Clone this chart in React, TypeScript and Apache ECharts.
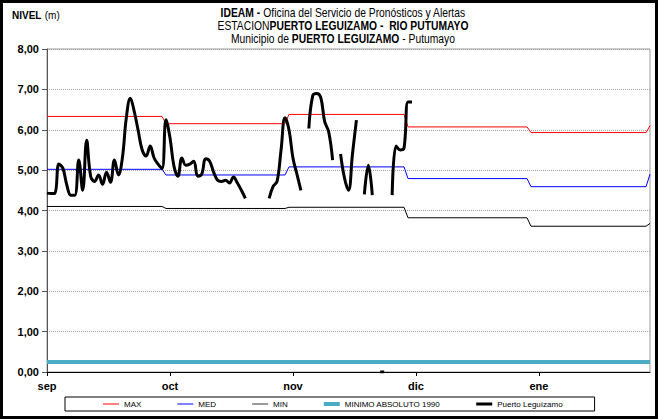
import React, { useEffect, useRef } from "react";
import * as echarts from "echarts";

// ---- data ----
const monthLabels = ["sep", "oct", "nov", "dic", "ene"];
const monthStartDay = [0, 30, 61, 91, 122];
const monthEndDay = [29, 60, 90, 121, 151];
const lastDay = 152;

const maxMonthly = [6.33, 6.15, 6.38, 6.07, 5.93];
const maxFinal = 6.1;
const medMonthly = [5.02, 4.88, 5.08, 4.79, 4.59];
const medFinal = 4.9;
const minMonthly = [4.1, 4.05, 4.08, 3.82, 3.61];
const minFinal = 3.68;
const minimoAbsoluto = 0.25;

// daily observed levels, from 1 sep (null = no data)
const observedLevels: (number | null)[] = [
  4.43, 4.42, 4.43, 5.15, 5.05, 4.63, 4.38, 4.38, 5.25, 4.5,
  5.74, 4.85, 4.72, 4.88, 4.65, 4.95, 4.7, 5.25, 4.88, 5.3,
  6.3, 6.78, 6.45, 5.97, 5.5, 5.35, 5.6, 5.3, 5.15, 5.04,
  6.25, 5.8, 5.1, 4.85, 5.3, 5.12, 5.15, 5.22, 4.85, 4.9,
  5.28, 5.22, 4.95, 4.75, 4.72, 4.75, 4.68, 4.83, 4.68, 4.5,
  4.3, null, null, null, null, null, 4.3, 4.6, 4.72, 5.5,
  6.3, 6.0, 5.3, 4.9, 4.5, null, 6.03, 6.85, 6.9, 6.8,
  6.2, 5.95, 5.25, null, 5.4, 4.8, 4.5, 5.4, 6.24, null,
  4.4, 5.12, 4.38, null, 0, 0, null, 4.38, 5.6, 5.5,
  5.55, 6.69, 6.69,
];

const FONT = "'Liberation Sans Narrow', 'Arial Narrow', 'Liberation Sans', Arial, sans-serif";

function stepLine(monthly: number[], finalValue: number): number[][] {
  const pts: number[][] = [];
  monthly.forEach((v, m) => {
    pts.push([monthStartDay[m], v]);
    pts.push([monthEndDay[m], v]);
  });
  pts.push([lastDay, finalValue]);
  return pts;
}

const lineIcon = (h: number) => `path://M0,0 L16,0 L16,${h} L0,${h} Z`;

const titleRich = {
  b: { fontFamily: FONT, fontWeight: "bold", fontSize: 12, fill: "#000" },
  r: { fontFamily: FONT, fontSize: 12, fill: "#000" },
};

function titleLine(text: string, y: number) {
  return {
    type: "text",
    x: 343,
    y,
    scaleX: 0.86,
    style: { text, align: "center", verticalAlign: "middle", rich: titleRich },
  };
}

export default function App() {
  const ref = useRef<HTMLDivElement>(null);

  useEffect(() => {
    if (!ref.current) return;
    const chart = echarts.init(ref.current, undefined, { renderer: "svg" });

    const observedData = observedLevels.map((v, i) => [i, v === null ? "-" : v]);

    const option: any = {
      animation: false,
      backgroundColor: "#ffffff",
      grid: {
        left: 47,
        right: 8,
        top: 49,
        bottom: 47,
        show: true,
        borderColor: "#9a9a9a",
        borderWidth: 1,
        backgroundColor: "transparent",
      },
      xAxis: {
        type: "value",
        min: 0,
        max: lastDay,
        interval: 31,
        axisLine: { show: true, lineStyle: { color: "#000", width: 1 } },
        axisTick: { show: true, length: 4, lineStyle: { color: "#000" } },
        splitLine: { show: false },
        axisLabel: {
          show: true,
          margin: 8,
          color: "#000",
          fontFamily: FONT,
          fontWeight: "bold",
          fontSize: 11,
          showMaxLabel: false,
          formatter: (v: number) => {
            const i = Math.round(v / 31);
            return Math.abs(v - i * 31) < 0.01 && monthLabels[i] ? monthLabels[i] : "";
          },
        },
      },
      yAxis: {
        type: "value",
        min: 0,
        max: 8,
        interval: 1,
        axisLine: { show: true, lineStyle: { color: "#555", width: 1 } },
        axisTick: { show: true, length: 5, lineStyle: { color: "#555" } },
        splitLine: { show: true, lineStyle: { color: "#a0a0a0", type: "dotted", width: 1 } },
        axisLabel: {
          color: "#000",
          fontFamily: FONT,
          fontWeight: "bold",
          fontSize: 11,
          margin: 8,
          formatter: (v: number) => v.toFixed(2).replace(".", ","),
        },
      },
      legend: {
        left: 65,
        top: 397,
        itemGap: 36,
        itemWidth: 16,
        itemHeight: 8,
        symbolKeepAspect: true,
        borderColor: "#000",
        borderWidth: 1,
        borderRadius: 0,
        padding: [3, 32, 3, 38],
        textStyle: { fontFamily: FONT, fontSize: 8, color: "#000" },
        data: [
          { name: "MAX", icon: lineIcon(1) },
          { name: "MED", icon: lineIcon(1) },
          { name: "MIN", icon: lineIcon(1) },
          { name: "MINIMO ABSOLUTO 1990", icon: lineIcon(4) },
          { name: "Puerto Leguízamo", icon: lineIcon(3) },
        ],
      },
      graphic: [
        {
          type: "text",
          left: 12,
          top: 9,
          style: {
            text: "{b|NIVEL} {r|(m)}",
            rich: {
              b: { fontFamily: FONT, fontWeight: "bold", fontSize: 10, fill: "#000" },
              r: { fontFamily: FONT, fontSize: 10, fill: "#000" },
            },
          },
        },
        titleLine("{b|IDEAM -} {r|Oficina del Servicio de Pronósticos y Alertas}", 13),
        titleLine("{r|ESTACION}{b|PUERTO LEGUIZAMO -  RIO PUTUMAYO}", 26),
        titleLine("{r|Municipio de }{b|PUERTO LEGUIZAMO}{r| - Putumayo}", 39),
        {
          type: "rect",
          shape: { x: 1.5, y: 1.5, width: 655, height: 416 },
          style: { fill: "none", stroke: "#000", lineWidth: 3 },
          silent: true,
          z: 100,
        },
      ],
      series: [
        {
          name: "MAX",
          type: "line",
          data: stepLine(maxMonthly, maxFinal),
          symbol: "none",
          lineStyle: { color: "#ff0000", width: 1 },
          itemStyle: { color: "#ff0000" },
        },
        {
          name: "MED",
          type: "line",
          data: stepLine(medMonthly, medFinal),
          symbol: "none",
          lineStyle: { color: "#0000ff", width: 1 },
          itemStyle: { color: "#0000ff" },
        },
        {
          name: "MIN",
          type: "line",
          data: stepLine(minMonthly, minFinal),
          symbol: "none",
          lineStyle: { color: "#000000", width: 1 },
          itemStyle: { color: "#333333" },
        },
        {
          name: "MINIMO ABSOLUTO 1990",
          type: "line",
          data: [
            [0, minimoAbsoluto],
            [lastDay, minimoAbsoluto],
          ],
          symbol: "none",
          lineStyle: { color: "#4bacc6", width: 4 },
          itemStyle: { color: "#4bacc6" },
        },
        {
          name: "Puerto Leguízamo",
          type: "line",
          data: observedData,
          symbol: "none",
          smooth: 0.4,
          connectNulls: false,
          lineStyle: { color: "#000000", width: 3 },
          itemStyle: { color: "#000000" },
        },
      ],
    };

    chart.setOption(option);
    return () => chart.dispose();
  }, []);

  return (
    <div
      ref={ref}
      style={{ position: "absolute", left: 0, top: 0, width: 658, height: 419, background: "#fff" }}
    />
  );
}
